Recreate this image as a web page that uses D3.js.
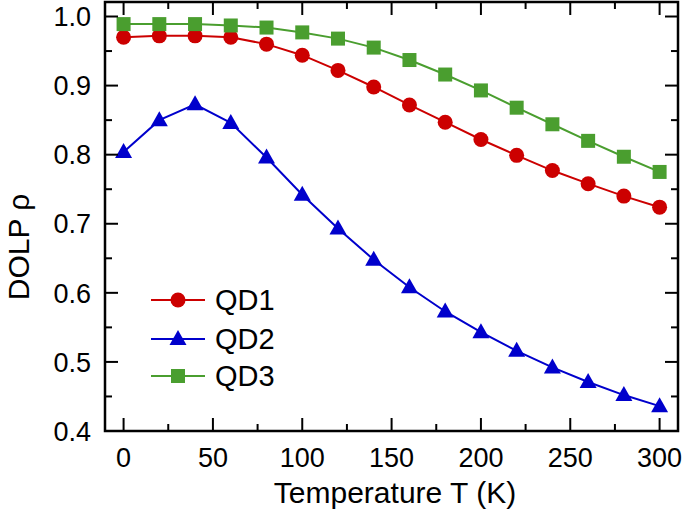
<!DOCTYPE html>
<html><head><meta charset="utf-8">
<script src="https://cdn.jsdelivr.net/npm/d3@7"></script>
<style>body{margin:0;background:#fff}svg{display:block}</style>
</head><body>
<svg id="c" width="685" height="514"></svg>
<script>
const temps = [0,20,40,60,80,100,120,140,160,180,200,220,240,260,280,300];
const qd1 = [0.970,0.972,0.972,0.970,0.960,0.944,0.922,0.898,0.872,0.847,0.822,0.799,0.777,0.758,0.740,0.724];
const qd2 = [0.804,0.850,0.873,0.846,0.796,0.742,0.693,0.648,0.608,0.573,0.543,0.516,0.492,0.471,0.452,0.436];
const qd3 = [0.989,0.989,0.989,0.987,0.984,0.977,0.968,0.955,0.937,0.916,0.893,0.868,0.844,0.820,0.797,0.775];
const xTicks = [0,50,100,150,200,250,300];
const yTicks = [0.4,0.5,0.6,0.7,0.8,0.9,1.0];
const seriesNames = ["QD1","QD2","QD3"];
const seriesColors = ["#cc0000","#0000cc","#4a9e2f"];
const seriesShapes = ["circle","triangle","square"];

const svg = d3.select("#c");
const L=105, R=678, T=2, B=431;
const x = d3.scaleLinear().domain([-10.4,310.3]).range([L,R]);
const y = d3.scaleLinear().domain([0.4,1.021]).range([B,T]);
const font = "'Liberation Sans', Arial, sans-serif";

const series = [qd1,qd2,qd3];
const line = d3.line().x((d,i)=>x(temps[i])).y(d=>y(d));

function marker(g, shape, color){
  if(shape==="circle") g.append("circle").attr("r",7.5).attr("fill",color);
  else if(shape==="square") g.append("rect").attr("x",-7).attr("y",-7).attr("width",14).attr("height",14).attr("fill",color);
  else g.append("path").attr("d","M0,-9L8.5,6L-8.5,6Z").attr("fill",color);
}

series.forEach((s,k)=>{
  svg.append("path").datum(s).attr("d",line).attr("fill","none")
    .attr("stroke",seriesColors[k]).attr("stroke-width",2);
  s.forEach((v,i)=>{
    const g = svg.append("g").attr("transform",`translate(${x(temps[i])},${y(v)})`);
    marker(g, seriesShapes[k], seriesColors[k]);
  });
});

// ticks
const minorX = d3.range(0,310,25);
const minorY = d3.range(0.45,1.0,0.1);
const tk = svg.append("g").attr("stroke","#000").attr("stroke-width",2);
minorX.forEach(v=>{
  const major = xTicks.includes(v);
  const len = major?13:7;
  tk.append("line").attr("x1",x(v)).attr("x2",x(v)).attr("y1",B).attr("y2",B-len);
  tk.append("line").attr("x1",x(v)).attr("x2",x(v)).attr("y1",T).attr("y2",T+len);
});
yTicks.forEach(v=>{
  tk.append("line").attr("x1",L).attr("x2",L+13).attr("y1",y(v)).attr("y2",y(v));
  tk.append("line").attr("x1",R).attr("x2",R-13).attr("y1",y(v)).attr("y2",y(v));
});
minorY.forEach(v=>{
  tk.append("line").attr("x1",L).attr("x2",L+7).attr("y1",y(v)).attr("y2",y(v));
  tk.append("line").attr("x1",R).attr("x2",R-7).attr("y1",y(v)).attr("y2",y(v));
});
svg.append("rect").attr("x",L).attr("y",T).attr("width",R-L).attr("height",B-T)
  .attr("fill","none").attr("stroke","#000").attr("stroke-width",2.5);

// labels
xTicks.forEach(v=>{
  svg.append("text").attr("x",x(v)).attr("y",467).attr("text-anchor","middle")
    .attr("font-family",font).attr("font-size",27).text(v);
});
yTicks.forEach(v=>{
  svg.append("text").attr("x",91).attr("y",y(v)+9.7).attr("text-anchor","end")
    .attr("font-family",font).attr("font-size",27).text(v.toFixed(1));
});
svg.append("text").attr("x",395).attr("y",503).attr("text-anchor","middle")
  .attr("font-family",font).attr("font-size",30).text("Temperature T (K)");
svg.append("text").attr("transform","translate(29,247) rotate(-90)").attr("text-anchor","middle")
  .attr("font-family",font).attr("font-size",30).text("DOLP ρ");

// legend
const legY = [300,339,376];
seriesNames.forEach((n,k)=>{
  svg.append("line").attr("x1",151).attr("x2",205).attr("y1",legY[k]).attr("y2",legY[k])
    .attr("stroke",seriesColors[k]).attr("stroke-width",2);
  const g = svg.append("g").attr("transform",`translate(178,${legY[k]})`);
  marker(g, seriesShapes[k], seriesColors[k]);
  svg.append("text").attr("x",215).attr("y",legY[k]+10).attr("font-family",font)
    .attr("font-size",29).text(n);
});
</script>
</body></html>
